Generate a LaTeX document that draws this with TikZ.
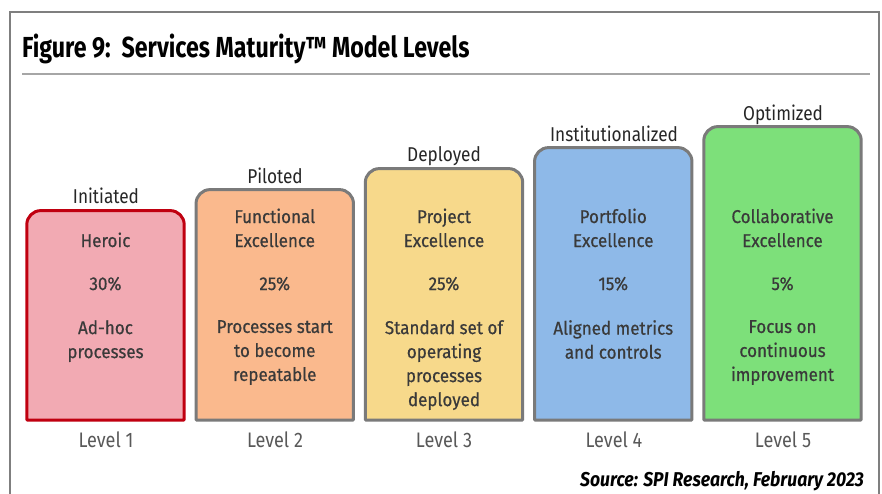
\documentclass[tikz,border=0pt]{standalone}
\usepackage{fontspec}
\setmainfont{Fira Sans}
\newfontfamily\titlefont[FakeStretch=0.80]{Fira Sans}
\newfontfamily\srcfont[FakeStretch=0.88]{Fira Sans}
\newfontfamily\boxfont[FakeStretch=0.86]{Fira Sans}
\newfontfamily\innerfont[FakeStretch=0.92,FakeBold=0.6]{Fira Sans}
\definecolor{frameg}{HTML}{7F7F7F}
\definecolor{sepg}{HTML}{A6A6A6}
\definecolor{edgeg}{HTML}{7A7A7A}
\definecolor{edger}{HTML}{C00010}
\definecolor{fpink}{HTML}{F2AAB3}
\definecolor{forange}{HTML}{FAB98D}
\definecolor{fyellow}{HTML}{F7D98B}
\definecolor{fblue}{HTML}{8EB9E8}
\definecolor{fgreen}{HTML}{7DE07A}
\definecolor{txt}{HTML}{3A3A3A}
\definecolor{lbl}{HTML}{262626}
\definecolor{lvl}{HTML}{595959}
\tikzset{
  boxbase/.style={draw=none, inner sep=0pt, minimum width=157pt, anchor=south},
  boxedge/.style={line width=3pt, draw=edgeg, line join=round},
  boxtext/.style={align=center, text=txt, inner sep=0pt, font=\innerfont\fontsize{18.5}{24}\selectfont},
  toplabel/.style={text=lbl, inner sep=0pt, anchor=base, font=\boxfont\fontsize{20}{24}\selectfont},
  levellabel/.style={text=lvl, inner sep=0pt, anchor=base, font=\boxfont\fontsize{21}{24}\selectfont},
}
\begin{document}
\begin{tikzpicture}[x=1pt,y=-1pt]
\useasboundingbox (0,0) rectangle (882,493);
\fill[white] (0,0) rectangle (882,493);
\begin{scope}
\clip (0,0) rectangle (882,493);
\draw[frameg, line width=2.5pt] (10,520) -- (10,12) -- (879,12) -- (879,520);
\end{scope}
\node[anchor=base west, inner sep=0pt, text=black, font=\titlefont\bfseries\fontsize{29}{32}\selectfont] (title) at (22,57) {Figure 9:\ \ Services Maturity™ Model Levels};
\coordinate (sepl) at (22,74);
\coordinate (sepr) at (870,74);
\draw[sepg, line width=2pt] (sepl) -- (sepr);

% boxes
\node[boxbase, minimum height=209pt] (b1) at (105.5,420) {};
\node[boxbase, minimum height=230pt] (b2) at (274.75,420) {};
\node[boxbase, minimum height=251pt] (b3) at (444,420) {};
\node[boxbase, minimum height=272pt] (b4) at (613.25,420) {};
\node[boxbase, minimum height=293pt] (b5) at (782.5,420) {};

\filldraw[boxedge, fill=fpink, draw=edger] (b1.south west) [rounded corners=14pt] -- (b1.north west) -- (b1.north east) [sharp corners] -- (b1.south east) -- cycle;
\filldraw[boxedge, fill=forange] (b2.south west) [rounded corners=14pt] -- (b2.north west) -- (b2.north east) [sharp corners] -- (b2.south east) -- cycle;
\filldraw[boxedge, fill=fyellow] (b3.south west) [rounded corners=14pt] -- (b3.north west) -- (b3.north east) [sharp corners] -- (b3.south east) -- cycle;
\filldraw[boxedge, fill=fblue] (b4.south west) [rounded corners=14pt] -- (b4.north west) -- (b4.north east) [sharp corners] -- (b4.south east) -- cycle;
\filldraw[boxedge, fill=fgreen] (b5.south west) [rounded corners=14pt] -- (b5.north west) -- (b5.north east) [sharp corners] -- (b5.south east) -- cycle;

% labels above
\node[toplabel] (l1) at (106,203) {Initiated};
\node[toplabel] (l2) at (275,183) {Piloted};
\node[toplabel] (l3) at (444,161) {Deployed};
\node[toplabel] (l4) at (614,141) {Institutionalized};
\node[toplabel] (l5) at (783,120) {Optimized};

% box texts (names)
\node[boxtext, anchor=base] (n1) at (105.5,247) {Heroic};
\node[boxtext, anchor=base] (n2) at (274.75,223) {Functional};
\node[boxtext, anchor=base] (n2b) at (274.75,247) {Excellence};
\node[boxtext, anchor=base] (n3) at (444,223) {Project};
\node[boxtext, anchor=base] (n3b) at (444,247) {Excellence};
\node[boxtext, anchor=base] (n4) at (613.25,223) {Portfolio};
\node[boxtext, anchor=base] (n4b) at (613.25,247) {Excellence};
\node[boxtext, anchor=base] (n5) at (782.5,223) {Collaborative};
\node[boxtext, anchor=base] (n5b) at (782.5,247) {Excellence};

% percentages
\node[boxtext, anchor=base] (p1) at (105.5,290) {30\%};
\node[boxtext, anchor=base] (p2) at (274.75,290) {25\%};
\node[boxtext, anchor=base] (p3) at (444,290) {25\%};
\node[boxtext, anchor=base] (p4) at (613.25,290) {15\%};
\node[boxtext, anchor=base] (p5) at (782.5,290) {5\%};

% descriptions
\node[boxtext, anchor=north] (d1) at (105.5,320) {Ad-hoc\\processes};
\node[boxtext, anchor=north] (d2) at (274.75,320) {Processes start\\to become\\repeatable};
\node[boxtext, anchor=north] (d3) at (444,320) {Standard set of\\operating\\processes\\deployed};
\node[boxtext, anchor=north] (d4) at (613.25,320) {Aligned metrics\\and controls};
\node[boxtext, anchor=north] (d5) at (782.5,320) {Focus on\\continuous\\improvement};

% levels
\node[levellabel] (v1) at (106,447) {Level 1};
\node[levellabel] (v2) at (275,447) {Level 2};
\node[levellabel] (v3) at (444,447) {Level 3};
\node[levellabel] (v4) at (614,447) {Level 4};
\node[levellabel] (v5) at (783,447) {Level 5};

\node[anchor=base east, inner sep=0pt, text=black, font=\srcfont\bfseries\itshape\fontsize{20}{24}\selectfont] (src) at (864,486) {Source: SPI Research, February 2023};
\end{tikzpicture}
\end{document}
